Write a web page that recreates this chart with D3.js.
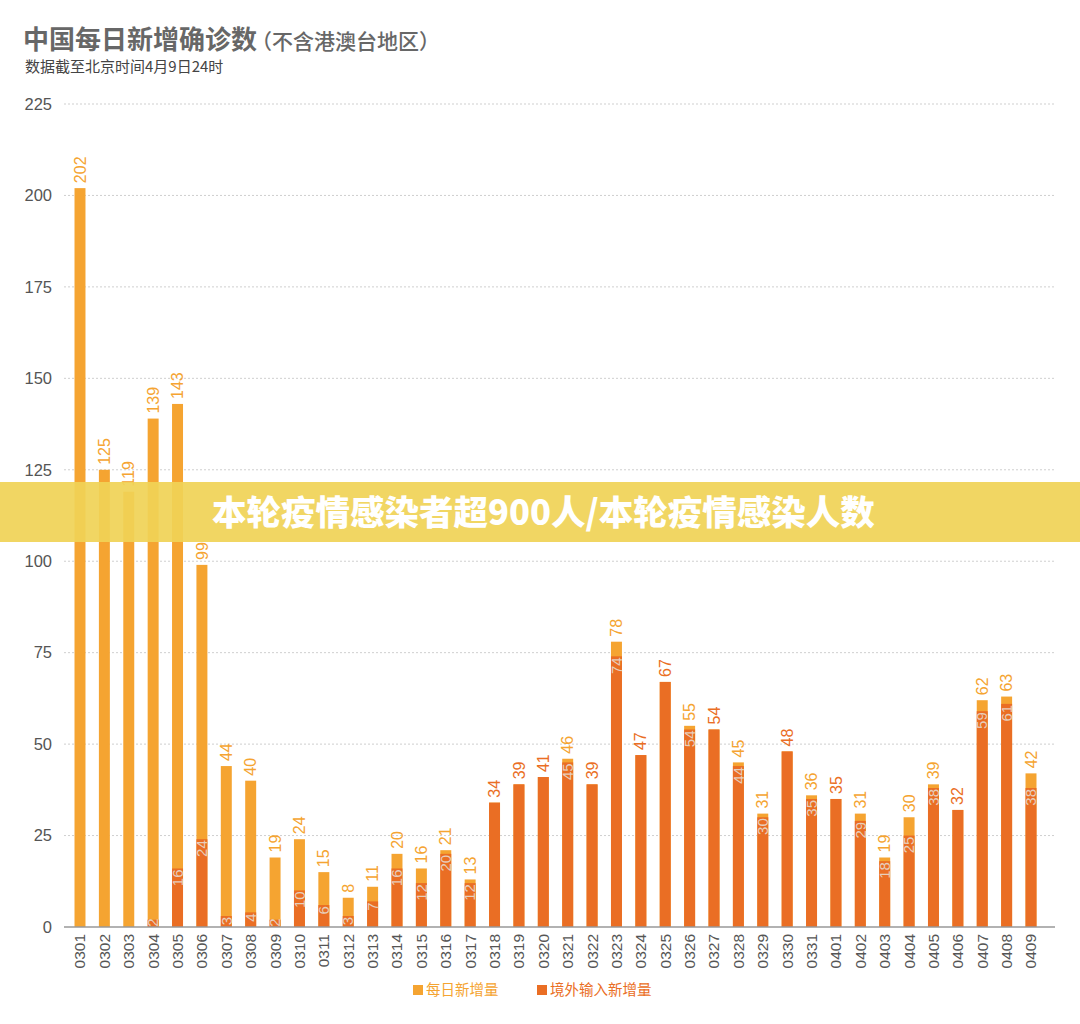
<!DOCTYPE html>
<meta charset="utf-8">
<title>中国每日新增确诊数</title>
<style>
body { margin: 0; background: #fff; }
svg text { font-family: "Liberation Sans", Arial, sans-serif; }
.cjk { font-family: "Noto Sans CJK SC", sans-serif !important; }
</style>
<body>
<script src="https://d3js.org/d3.v7.min.js"></script>
<script>
// dates, daily new total, imported part of it
var dates = ["0301","0302","0303","0304","0305","0306","0307","0308","0309","0310",
  "0311","0312","0313","0314","0315","0316","0317","0318","0319","0320",
  "0321","0322","0323","0324","0325","0326","0327","0328","0329","0330",
  "0331","0401","0402","0403","0404","0405","0406","0407","0408","0409"];
var dailyNew = [202,125,119,139,143,99,44,40,19,24,
  15,8,11,20,16,21,13,34,39,41,
  46,39,78,47,67,55,54,45,31,48,
  36,35,31,19,30,39,32,62,63,42];
var imported = [0,0,0,2,16,24,3,4,2,10,
  6,3,7,16,12,20,12,34,39,41,
  45,39,74,47,67,54,54,44,30,48,
  35,35,29,18,25,38,32,59,61,38];
var yTicks = [0,25,50,75,100,125,150,175,200,225];
var legendNames = ["每日新增量","境外输入新增量"];

var W = 1080, H = 1024;
var cLocal = "#f5a431", cImp = "#ea6e24";

var svg = d3.select("body").append("svg").attr("width", W).attr("height", H);

var y = d3.scaleLinear().domain([0,225]).range([927,104]);
var x = d3.scaleBand().domain(dates).range([67.8,1043.2])
  .paddingInner(0.55).paddingOuter(0.275);

// grid
svg.append("g").selectAll("line").data(yTicks.slice(1)).enter().append("line")
  .attr("x1", 64).attr("x2", 1055)
  .attr("y1", d => y(d)).attr("y2", d => y(d))
  .attr("stroke", "#cfcfcf").attr("stroke-dasharray", "2,2");

svg.append("g").selectAll("text").data(yTicks).enter().append("text")
  .attr("x", 52).attr("y", d => y(d)).attr("dy", "0.35em")
  .attr("text-anchor", "end").attr("font-size", 16.5).attr("fill", "#555")
  .text(d => d);

var rows = dates.map((d,i) => ({date: d, total: dailyNew[i], imp: imported[i]}));

// bars
var g = svg.append("g");
g.selectAll(".tot").data(rows).enter().append("rect")
  .attr("x", d => x(d.date)).attr("width", x.bandwidth())
  .attr("y", d => y(d.total)).attr("height", d => y(0) - y(d.total))
  .attr("fill", cLocal);
g.selectAll(".imp").data(rows.filter(d => d.imp > 0)).enter().append("rect")
  .attr("x", d => x(d.date)).attr("width", x.bandwidth())
  .attr("y", d => y(d.imp)).attr("height", d => y(0) - y(d.imp))
  .attr("fill", cImp);

// baseline
svg.append("line").attr("x1", 64).attr("x2", 1055)
  .attr("y1", y(0)).attr("y2", y(0)).attr("stroke", "#999").attr("stroke-width", 1.5);

// total labels
g.selectAll(".tl").data(rows).enter().append("text")
  .attr("transform", d => "translate(" + (x(d.date) + x.bandwidth()/2) + "," + (y(d.total) - 5) + ") rotate(-90)")
  .attr("dy", "0.35em").attr("font-size", 16)
  .attr("fill", d => d.total > d.imp ? cLocal : cImp)
  .text(d => d.total);

// imported labels inside bars
g.selectAll(".il").data(rows.filter(d => d.imp > 0 && d.imp < d.total)).enter().append("text")
  .attr("transform", d => {
    var w = String(d.imp).length * 8.5;
    var yy = Math.min(y(d.imp) + 1, y(0) - w);
    return "translate(" + (x(d.date) + x.bandwidth()/2) + "," + yy + ") rotate(-90)";
  })
  .attr("dy", "0.35em").attr("text-anchor", "end").attr("font-size", 15)
  .attr("fill", "#e6e0da").attr("fill-opacity", 0.85)
  .text(d => d.imp);

// x tick labels
svg.append("g").selectAll("text").data(dates).enter().append("text")
  .attr("transform", d => "translate(" + (x(d) + x.bandwidth()/2) + ",934) rotate(-90)")
  .attr("dy", "0.35em").attr("text-anchor", "end").attr("font-size", 15.5).attr("fill", "#555")
  .text(d => d);

// title
var t = svg.append("text").attr("class", "cjk").attr("x", 23).attr("y", 49).attr("fill", "#676767");
t.append("tspan").attr("font-size", 26).attr("font-weight", "bold").text("中国每日新增确诊数");
t.append("tspan").attr("font-size", 21).attr("font-weight", 500).text("（不含港澳台地区）").attr("dx", -6);
svg.append("text").attr("class", "cjk").attr("x", 25).attr("y", 72)
  .attr("font-size", 15).attr("fill", "#444").text("数据截至北京时间4月9日24时");

// legend
var lg = svg.append("g").selectAll("g").data(legendNames).enter().append("g")
  .attr("transform", (d,i) => "translate(" + (i ? 537 : 413) + ",985)");
lg.append("rect").attr("width", 10).attr("height", 10).attr("fill", (d,i) => i ? cImp : cLocal);
lg.append("text").attr("class", "cjk").attr("x", 13).attr("y", 10).attr("font-size", 14.5)
  .attr("fill", (d,i) => i ? cImp : cLocal).text(d => d);

// overlay banner
svg.append("rect").attr("x", 0).attr("y", 482).attr("width", W).attr("height", 60)
  .attr("fill", "#f0d256").attr("fill-opacity", 0.92);
svg.append("text").attr("class", "cjk").attr("x", 212).attr("y", 513).attr("dy", "0.35em")
  .attr("font-size", 34.5).attr("font-weight", 900).attr("fill", "#fff")
  .text("本轮疫情感染者超900人/本轮疫情感染人数");
</script>
</body>
